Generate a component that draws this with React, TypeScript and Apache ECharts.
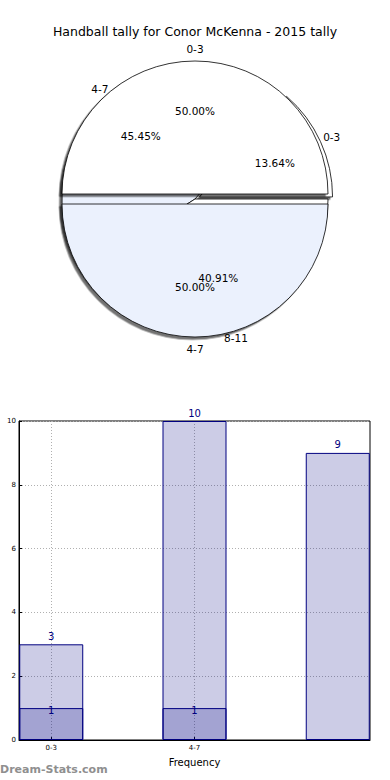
import React, { useEffect, useRef } from "react";
import * as echarts from "echarts";

const chartTitle = "Handball tally for Conor McKenna - 2015 tally";
const categories = ["0-3", "4-7", "8-11"];
const totalScores = [3, 10, 9];
const pointScores = [1, 1, 0];
const xTickIndexes = [0, 1];
const yMin = 0;
const yMax = 10;
const yStep = 2;
const xLabel = "Frequency";
const yLabel = "Total Scores";
const watermark = "Dream-Stats.com";

export default function App() {
  const ref = useRef<HTMLDivElement>(null);
  useEffect(() => {
    document.body.style.margin = "0";
    const chart = echarts.init(ref.current!, null, { renderer: "svg" });
    const font = "DejaVu Sans";
    const cx = 195;
    const cy = 199;
    const R = 133;
    const white = "#ffffff";
    const blue = "#ebf1fd";
    const colorsB = [white, blue, white];
    const colorsA = [white, blue, white];

    const mkData = (vals: number[], colors: string[], sel: (i: number) => boolean) =>
      categories
        .map((c, i) => ({
          name: c,
          value: vals[i],
          selected: sel(i),
          itemStyle: { color: colors[i] },
          select: { itemStyle: { color: colors[i] } },
        }))
        .filter((d) => d.value > 0);

    const dataB = mkData(totalScores, colorsB, (i) => i === 0);
    const dataA = mkData(pointScores, colorsA, () => true);

    const basePie = {
      type: "pie",
      center: [cx, cy],
      startAngle: 0,
      clockwise: false,
      selectedMode: "multiple",
      selectedOffset: 5,
      silent: true,
      avoidLabelOverlap: false,
      percentPrecision: 2,
      emphasis: { disabled: true },
      labelLine: { show: false },
      labelLayout: { hideOverlap: false },
    };

    const mainPie = (data: any[], z: number) => ({
      ...basePie,
      z,
      radius: [0, R],
      data,
      label: { show: false },
      itemStyle: {
        borderColor: "#000",
        borderWidth: 0.8,
        shadowColor: "rgba(0,0,0,0.55)",
        shadowBlur: 0,
        shadowOffsetX: -2.5,
        shadowOffsetY: 2.5,
      },
    });

    const labelPie = (data: any[], kind: "name" | "pct", z: number) => ({
      ...basePie,
      z,
      radius: kind === "name" ? [R, R * 1.14] : [R * 0.2, R],
      data: data.map((d) => ({
        ...d,
        itemStyle: { color: "rgba(0,0,0,0)", borderWidth: 0 },
        select: { itemStyle: { color: "rgba(0,0,0,0)", borderWidth: 0 } },
      })),
      itemStyle: { color: "rgba(0,0,0,0)", borderWidth: 0 },
      label: {
        show: true,
        position: "inside",
        color: "#000",
        fontFamily: font,
        fontSize: 10.5,
        formatter: (p: any) => (kind === "name" ? p.name : p.percent.toFixed(2) + "%"),
      },
    });

    const option: any = {
      animation: false,
      backgroundColor: "#fff",
      title: {
        text: chartTitle,
        left: "center",
        top: 20,
        textStyle: { fontFamily: font, fontSize: 12.5, fontWeight: "normal", color: "#000" },
      },
      grid: {
        left: 19,
        top: 421,
        width: 351,
        height: 319,
        show: true,
        borderColor: "#000",
        borderWidth: 1,
        backgroundColor: "transparent",
        containLabel: false,
        outerBoundsMode: "none",
      },
      xAxis: {
        type: "value",
        min: -0.225,
        max: categories.length - 1 + 0.225,
        axisLine: { show: true, onZero: false, lineStyle: { color: "#000", width: 1 } },
        axisTick: { show: true, inside: true, length: 3, customValues: xTickIndexes, lineStyle: { color: "#000" } },
        axisLabel: {
          customValues: xTickIndexes,
          formatter: (v: number) => categories[Math.round(v)],
          fontFamily: font,
          fontSize: 7,
          color: "#000",
          margin: 4,
        },
        splitLine: { show: true, lineStyle: { color: "#b0b0b0", type: [1, 2], width: 1 } },
        name: xLabel,
        nameLocation: "middle",
        nameGap: 17,
        nameTextStyle: { fontFamily: font, fontSize: 10, color: "#000" },
      },
      yAxis: {
        type: "value",
        min: yMin,
        max: yMax,
        interval: yStep,
        axisLine: { show: true, onZero: false, lineStyle: { color: "#000", width: 1 } },
        axisTick: { show: true, inside: true, length: 3, lineStyle: { color: "#000" } },
        axisLabel: { fontFamily: font, fontSize: 7, color: "#000", margin: 3 },
        splitLine: { show: true, lineStyle: { color: "#b0b0b0", type: [1, 2], width: 1 } },
        name: yLabel,
        nameLocation: "middle",
        nameGap: 21,
        nameTextStyle: { fontFamily: font, fontSize: 10, color: "#000" },
      },
      graphic: [
        {
          type: "text",
          left: 0,
          top: 764,
          style: { text: watermark, fill: "#8f8f8f", font: `bold 11px '${font}'` },
        },
      ],
      series: [
        mainPie(dataB, 2),
        mainPie(dataA, 3),
        labelPie(dataB, "name", 5),
        labelPie(dataB, "pct", 5),
        labelPie(dataA, "name", 6),
        labelPie(dataA, "pct", 6),
        {
          type: "bar",
          data: categories.map((_, i) => [i, totalScores[i]]),
          barWidth: 64,
          barGap: "-100%",
          itemStyle: { color: "rgba(0,0,128,0.2)", borderColor: "#000080", borderWidth: 1 },
          label: { show: true, position: "top", distance: 3, color: "#000080", fontFamily: font, fontSize: 10 },
          emphasis: { disabled: true },
        },
        {
          type: "bar",
          data: categories.map((_, i) => [i, pointScores[i]]).filter((d) => d[1] > 0),
          barWidth: 64,
          barGap: "-100%",
          itemStyle: { color: "rgba(0,0,128,0.2)", borderColor: "#000080", borderWidth: 1 },
          label: { show: true, position: "top", distance: -7, color: "#000080", fontFamily: font, fontSize: 10 },
          emphasis: { disabled: true },
        },
      ],
    };
    chart.setOption(option);
    return () => chart.dispose();
  }, []);
  return <div ref={ref} style={{ width: 390, height: 780 }} />;
}
